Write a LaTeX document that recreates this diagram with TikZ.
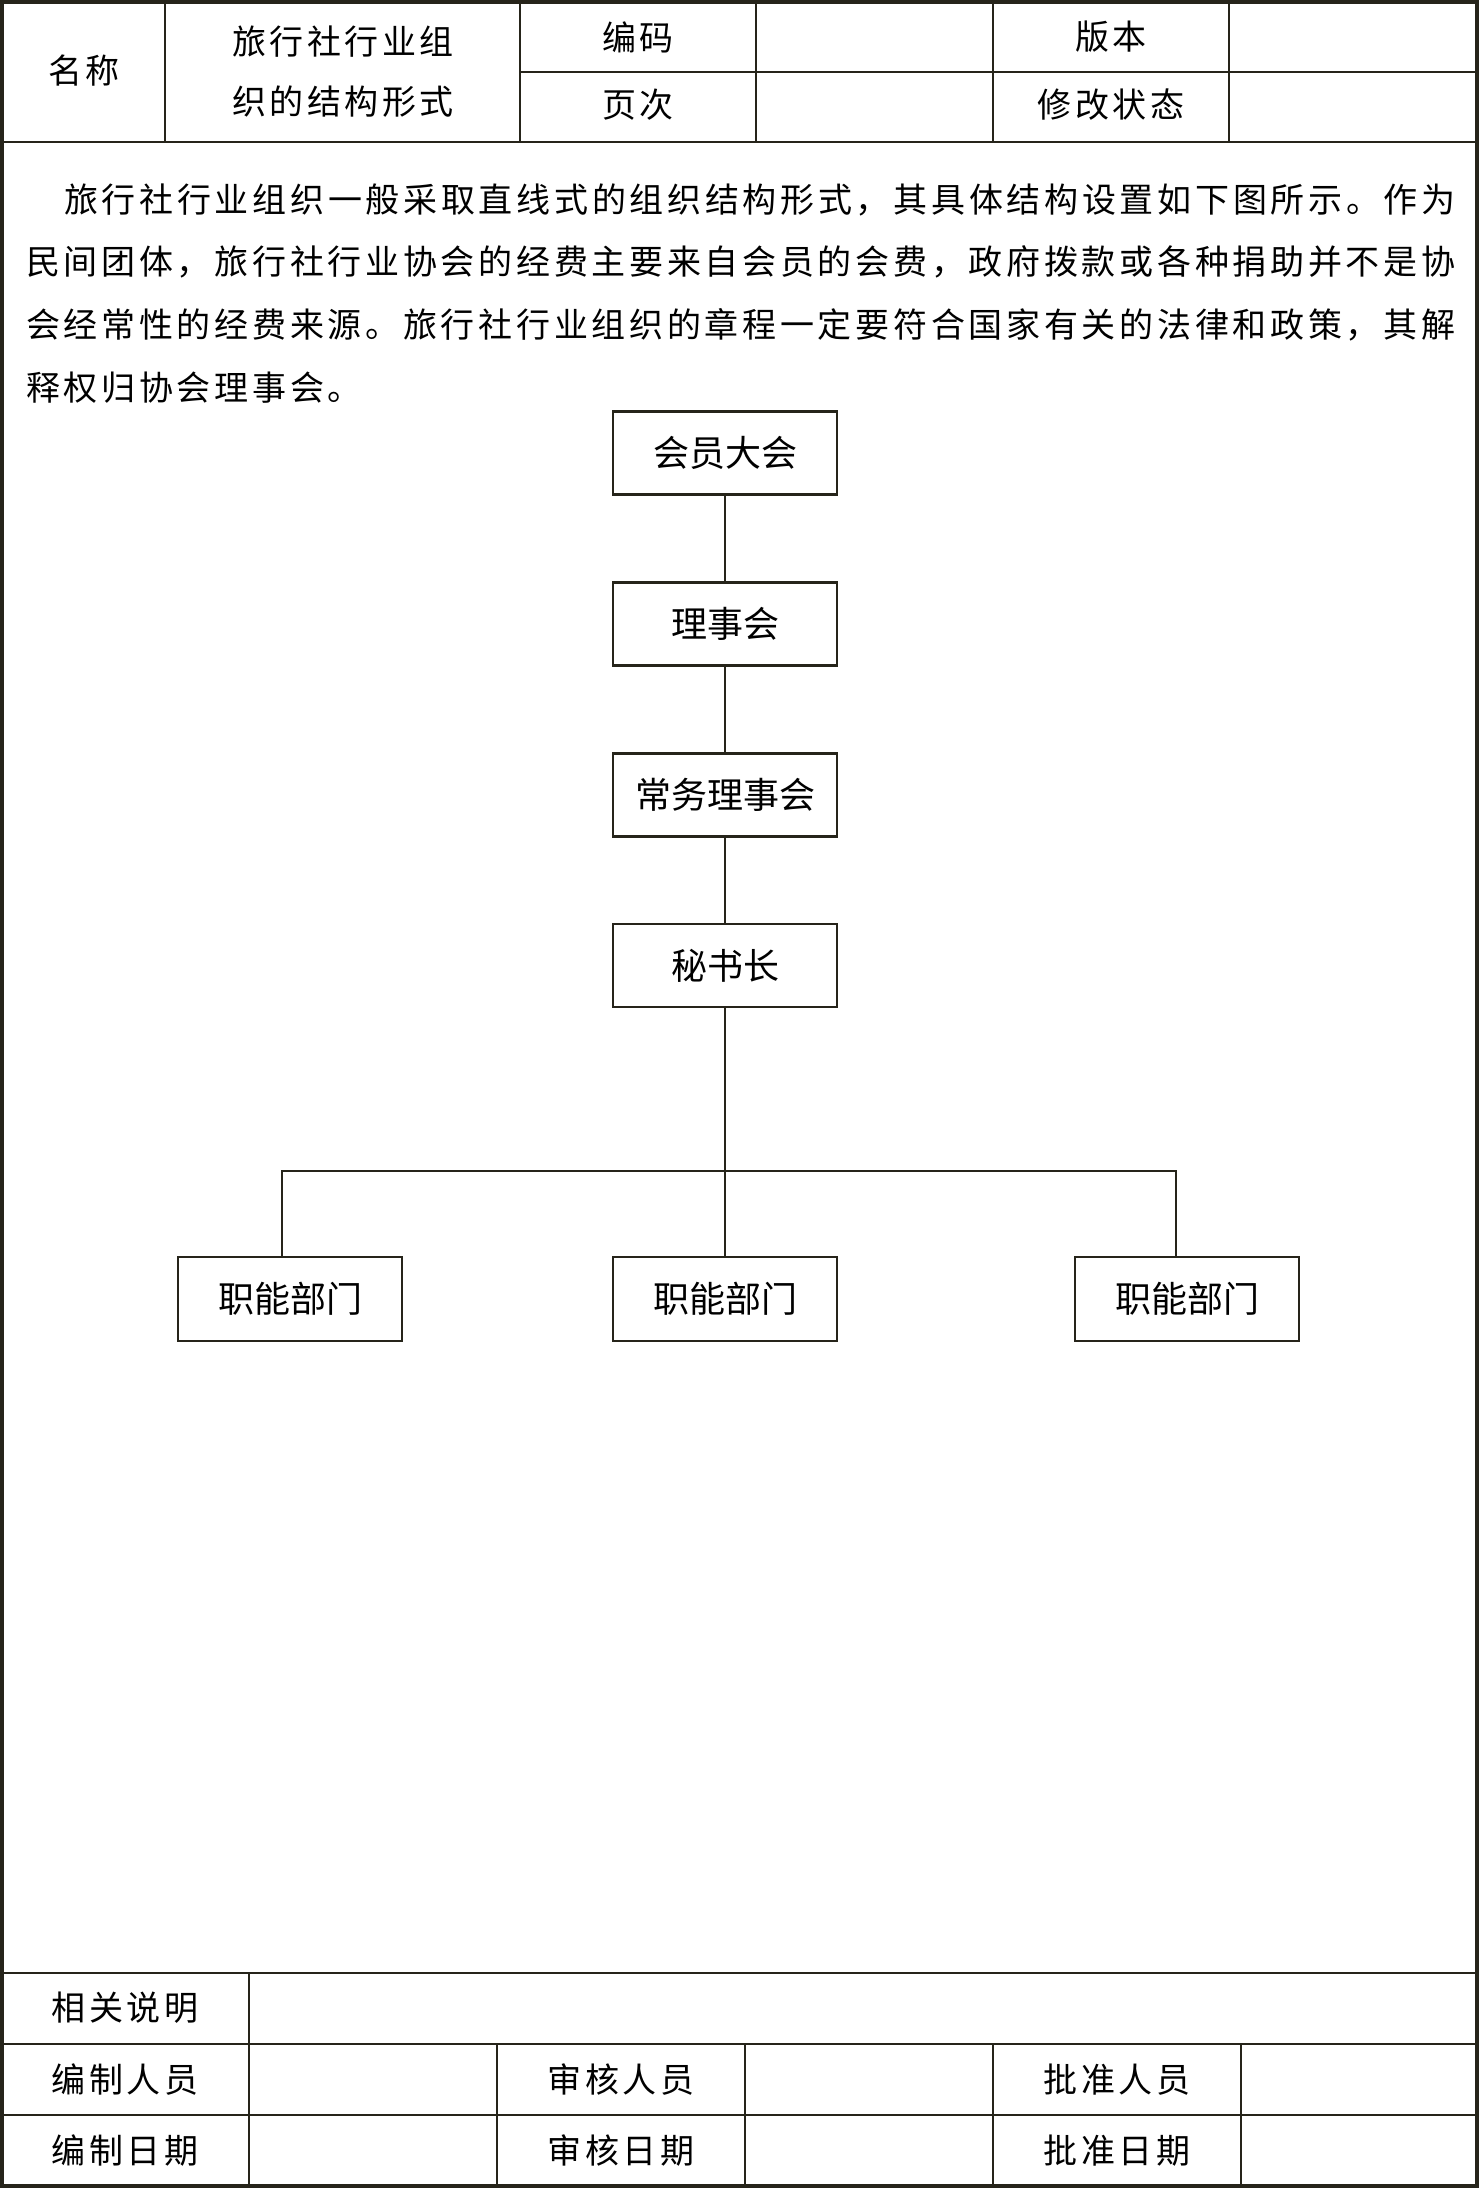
\documentclass[tikz,border=0pt]{standalone}
\usepackage{fontspec}
\newfontfamily\cjk{Noto Sans CJK SC}
\newfontfamily\cjksp[LetterSpace=10.3]{Noto Sans CJK SC}
\newfontfamily\cjkpara[LetterSpace=10.9]{Noto Sans CJK SC}
\definecolor{lineC}{RGB}{38,36,26}
\tikzset{
  lbl/.style={inner sep=0pt, text=black, font=\cjksp\fontsize{34}{40}\selectfont},
  paraline/.style={anchor=west, inner sep=0pt, text=black, font=\cjkpara\fontsize{34}{40}\selectfont},
  orgbox/.style={draw=lineC, line width=2.2pt, minimum width=224pt, minimum height=83pt, inner sep=0pt, text=black, font=\cjk\fontsize{36}{40}\selectfont},
  gridline/.style={draw=lineC, line width=1.8pt},
  heavyline/.style={draw=lineC, line width=2.6pt},
  conn/.style={draw=lineC, line width=2pt},
}
\begin{document}
\begin{tikzpicture}[x=1pt,y=-1pt]
\useasboundingbox (0,0) rectangle (1479,2188);
\fill[white] (0,0) rectangle (1479,2188);
% outer border
\draw[draw=lineC, line width=3.5pt] (2,2) rectangle (1477,2186);
% header grid
\foreach \xx in {165,520,756,993,1229} \draw[gridline] (\xx,2) -- (\xx,142);
\draw[gridline] (520,72) -- (1477,72);
\draw[heavyline] (2,142) -- (1477,142);
% header labels
\node[lbl] (hname) at (84,71) {名称};
\node[lbl] (hval1) at (343,42) {旅行社行业组};
\node[lbl] (hval2) at (343,102) {织的结构形式};
\node[lbl] (hcode) at (638,37) {编码};
\node[lbl] (hpage) at (638,105) {页次};
\node[lbl] (hver) at (1111,37) {版本};
\node[lbl] (hstat) at (1111,105) {修改状态};
% paragraph
\node[paraline] (p1) at (64,200) {旅行社行业组织一般采取直线式的组织结构形式，其具体结构设置如下图所示。作为};
\node[paraline] (p2) at (26,262) {民间团体，旅行社行业协会的经费主要来自会员的会费，政府拨款或各种捐助并不是协};
\node[paraline] (p3) at (26,325) {会经常性的经费来源。旅行社行业组织的章程一定要符合国家有关的法律和政策，其解};
\node[paraline] (p4) at (26,388) {释权归协会理事会。};
% org chart
\node[orgbox] (n1) at (725,453) {会员大会};
\node[orgbox] (n2) at (725,624) {理事会};
\node[orgbox] (n3) at (725,795) {常务理事会};
\node[orgbox] (n4) at (725,965.5) {秘书长};
\node[orgbox, minimum height=84pt] (d1) at (290,1299) {职能部门};
\node[orgbox, minimum height=84pt] (d2) at (725,1299) {职能部门};
\node[orgbox, minimum height=84pt] (d3) at (1187,1299) {职能部门};
\draw[conn] (n1.south) -- (n2.north);
\draw[conn] (n2.south) -- (n3.north);
\draw[conn] (n3.south) -- (n4.north);
\draw[conn] (n4.south) -- (d2.north);
\coordinate (bl) at (282,1171);
\coordinate (br) at (1176,1171);
\draw[conn] (bl |- d1.north) -- (bl) -- (br) -- (br |- d3.north);
% footer grid
\draw[heavyline] (2,1973) -- (1477,1973);
\draw[gridline] (2,2044) -- (1477,2044);
\draw[gridline] (2,2115) -- (1477,2115);
\draw[gridline] (249,1973) -- (249,2186);
\foreach \xx in {497,745,993,1241} \draw[gridline] (\xx,2044) -- (\xx,2186);
% footer labels
\node[lbl] (fnote) at (125,2008) {相关说明};
\node[lbl] (fed) at (125,2080) {编制人员};
\node[lbl] (fedd) at (125,2151) {编制日期};
\node[lbl] (frev) at (621,2080) {审核人员};
\node[lbl] (frevd) at (621,2151) {审核日期};
\node[lbl] (fapp) at (1117,2080) {批准人员};
\node[lbl] (fappd) at (1117,2151) {批准日期};
\end{tikzpicture}
\end{document}
